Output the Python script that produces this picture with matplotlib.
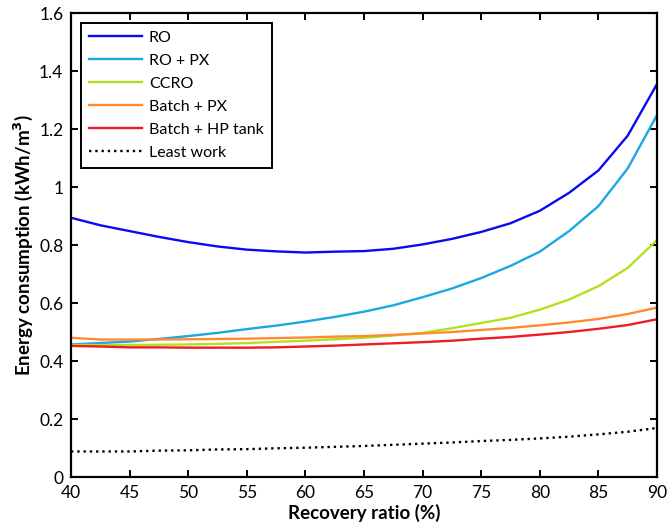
import matplotlib
matplotlib.use("Agg")
import matplotlib.pyplot as plt

plt.rcParams['font.family'] = ['Lato', 'DejaVu Sans']

recovery = [40, 42.5, 45, 47.5, 50, 52.5, 55, 57.5, 60, 62.5, 65, 67.5,
            70, 72.5, 75, 77.5, 80, 82.5, 85, 87.5, 90]

ro = [0.894, 0.868, 0.848, 0.828, 0.810, 0.795, 0.784, 0.778, 0.774, 0.777, 0.779,
      0.787, 0.802, 0.821, 0.845, 0.875, 0.918, 0.980, 1.057, 1.177, 1.355]
ro_px = [0.457, 0.462, 0.467, 0.476, 0.486, 0.497, 0.510, 0.522, 0.536, 0.552, 0.570,
         0.592, 0.620, 0.650, 0.686, 0.728, 0.777, 0.848, 0.934, 1.064, 1.248]
ccro = [0.455, 0.455, 0.455, 0.456, 0.457, 0.459, 0.462, 0.466, 0.470, 0.475, 0.480,
        0.488, 0.497, 0.513, 0.531, 0.549, 0.577, 0.612, 0.658, 0.721, 0.817]
batch_px = [0.480, 0.474, 0.474, 0.474, 0.475, 0.476, 0.477, 0.479, 0.481, 0.484, 0.486,
            0.490, 0.495, 0.500, 0.507, 0.514, 0.523, 0.533, 0.545, 0.562, 0.584]
batch_hp = [0.452, 0.450, 0.447, 0.447, 0.446, 0.446, 0.446, 0.447, 0.450, 0.453, 0.457,
            0.461, 0.465, 0.470, 0.477, 0.483, 0.491, 0.500, 0.511, 0.524, 0.544]
least_work = [0.088, 0.088, 0.088, 0.091, 0.092, 0.095, 0.096, 0.099, 0.101, 0.104, 0.107,
              0.111, 0.115, 0.119, 0.124, 0.128, 0.133, 0.139, 0.147, 0.156, 0.169]

labels = ['RO', 'RO + PX', 'CCRO', 'Batch + PX', 'Batch + HP tank', 'Least work']
colors = ['#0a0af0', '#1ba7e2', '#b2e21e', '#ff8a30', '#ee1c24', 'black']

x_ticks = [40, 45, 50, 55, 60, 65, 70, 75, 80, 85, 90]
y_ticks = [0, 0.2, 0.4, 0.6, 0.8, 1.0, 1.2, 1.4, 1.6]
y_ticklabels = ['0', '0.2', '0.4', '0.6', '0.8', '1', '1.2', '1.4', '1.6']

fig = plt.figure(figsize=(6.68, 5.29), dpi=100)
ax = fig.add_axes([71 / 668, (529 - 477) / 529, 586 / 668, 464 / 529])

series = [ro, ro_px, ccro, batch_px, batch_hp, least_work]
for vals, lab, col in zip(series, labels, colors):
    ls = ':' if lab == 'Least work' else '-'
    ax.plot(recovery, vals, color=col, lw=1.7, ls=ls, label=lab)

ax.set_xlim(40, 90)
ax.set_ylim(0, 1.6)
ax.set_xticks(x_ticks)
ax.set_yticks(y_ticks)
ax.set_yticklabels(y_ticklabels)
ax.tick_params(direction='in', top=True, right=True, length=5, width=1.4,
               labelsize=12.5)
ax.tick_params(axis='x', pad=6)
ax.tick_params(axis='y', pad=5.5)
for s in ax.spines.values():
    s.set_linewidth(1.6)

ax.set_xlabel('Recovery ratio (%)', fontsize=13.5, fontweight='bold', labelpad=2)
ax.set_ylabel('Energy consumption (kWh/m$^\\mathbf{3}$)', fontsize=13.5,
              fontweight='bold', labelpad=3)

leg = ax.legend(loc='upper left', bbox_to_anchor=(0.017, 0.979), borderaxespad=0,
                fontsize=11.5, fancybox=False, framealpha=1, edgecolor='black',
                handlelength=3.3, handletextpad=0.45, labelspacing=0.55,
                borderpad=0.5)
leg.get_frame().set_linewidth(1.4)

fig.savefig('out.png', dpi=100)
